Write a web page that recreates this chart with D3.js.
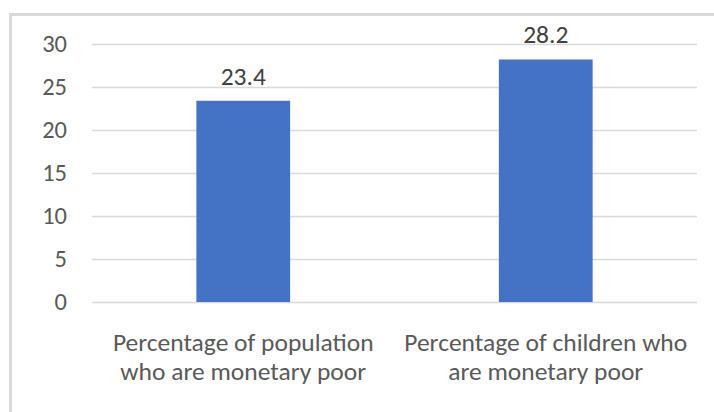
<!DOCTYPE html>
<html><head><meta charset="utf-8">
<script src="https://cdn.jsdelivr.net/npm/d3@7"></script>
<style>html,body{margin:0;padding:0;background:#fff;}svg{display:block;}</style>
</head><body>
<script>
const categories = [["Percentage of population", "who are monetary poor"], ["Percentage of children who", "are monetary poor"]];
const values = [23.4, 28.2];
const yTicks = [0, 5, 10, 15, 20, 25, 30];

const W = 714, H = 412;
const FONT = "Carlito, Lato, 'Noto Sans', sans-serif";
const svg = d3.select("body").append("svg").attr("width", W).attr("height", H);

// frame
svg.append("rect").attr("x", 10.5).attr("y", 14.5).attr("width", 730).attr("height", 420)
  .attr("fill", "none").attr("stroke", "#D9D9D9").attr("stroke-width", 3);

const x = d3.scaleBand().domain(d3.range(values.length)).range([92, 697]).paddingInner(0.69).paddingOuter(0.345);
const y = d3.scaleLinear().domain([0, 30]).range([302, 44]);

const yAxis = d3.axisLeft(y).tickValues(yTicks).tickSize(-(697 - 92)).tickPadding(25);
const gy = svg.append("g").attr("transform", "translate(92,0)").call(yAxis);
gy.select(".domain").remove();
gy.selectAll(".tick line").attr("stroke", "#D9D9D9").attr("stroke-width", 1.5);
gy.selectAll(".tick text").attr("fill", "#595959").attr("font-family", FONT).attr("font-size", 24.5);

svg.selectAll("rect.bar").data(values).enter().append("rect").attr("class", "bar")
  .attr("x", (d, i) => x(i)).attr("width", x.bandwidth())
  .attr("y", d => y(d)).attr("height", d => y(0) - y(d))
  .attr("fill", "#4472C4");

svg.selectAll("text.val").data(values).enter().append("text").attr("class", "val")
  .attr("x", (d, i) => x(i) + x.bandwidth() / 2).attr("y", d => y(d) - 16)
  .attr("text-anchor", "middle").attr("fill", "#404040")
  .attr("font-family", FONT).attr("font-size", 25.5).text(d => d.toFixed(1));

const cl = svg.selectAll("text.cat").data(categories).enter().append("text").attr("class", "cat")
  .attr("text-anchor", "middle").attr("fill", "#595959")
  .attr("font-family", FONT).attr("font-size", 25.5);
cl.each(function(lines, i) {
  const t = d3.select(this);
  lines.forEach((ln, j) => {
    t.append("tspan").attr("x", x(i) + x.bandwidth() / 2).attr("y", 351 + j * 29).text(ln);
  });
});
</script>
</body></html>
